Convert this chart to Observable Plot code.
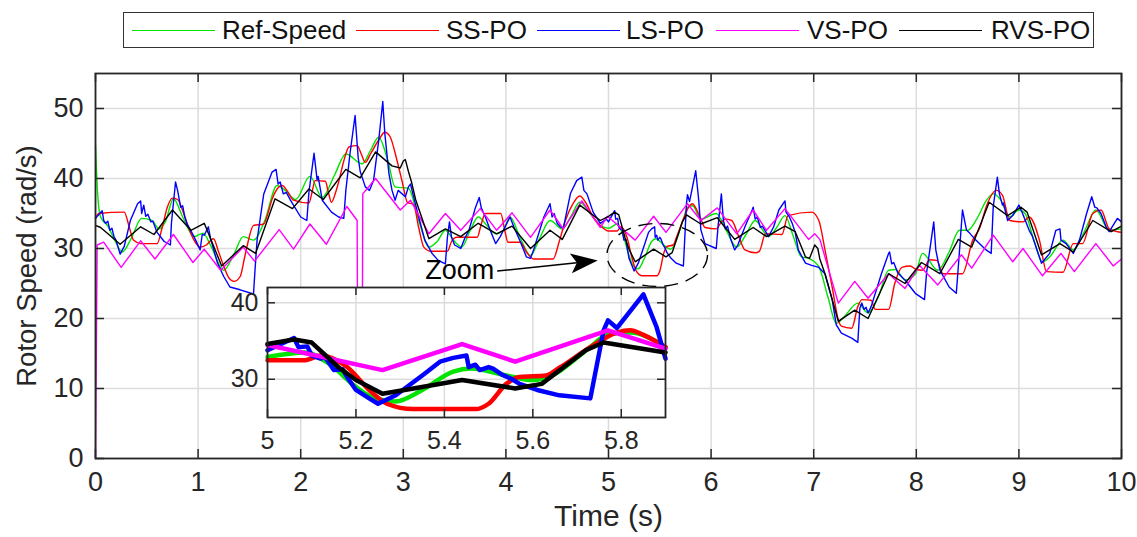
<!DOCTYPE html>
<html><head><meta charset="utf-8">
<script src="https://cdn.jsdelivr.net/npm/d3@7"></script>
<script src="https://cdn.jsdelivr.net/npm/@observablehq/plot@0.6"></script>
<style>
body{margin:0;background:#fff;width:1137px;height:537px;overflow:hidden;position:relative;}
.f{font-family:"Liberation Sans",Arial,Helvetica,sans-serif;}
#legend{position:absolute;left:123px;top:12px;width:971px;height:36px;border:1px solid #333;box-sizing:border-box;background:#fff;}
.lg-line{position:absolute;height:0;border-top:1.5px solid;}
.lg-text{position:absolute;font-size:26px;line-height:34px;color:#111;white-space:nowrap;}
#main{position:absolute;left:0;top:55px;}
#inset{position:absolute;left:225px;top:280px;}
</style></head>
<body class="f">
<div id="legend"></div>
<div id="main"></div>
<div id="inset"></div>
<script>
// ---------- data ----------
const seriesNames = ["Ref-Speed", "SS-PO", "LS-PO", "VS-PO", "RVS-PO"];
const seriesColors = ["#00e400", "#ff0000", "#0000ff", "#ff00ff", "#000000"];

const refT = [0,0.02,0.05,0.12,0.2,0.26,0.35,0.45,0.55,0.62,0.68,0.76,0.85,0.96,1.05,1.12,1.25,1.35,1.44,1.54,1.65,1.77,1.85,1.95,2.09,2.21,2.33,2.44,2.6,2.68,2.76,2.85,2.92,3.05,3.15,3.25,3.33,3.41,3.5,3.57,3.65,3.73,3.82,3.9,3.97,4.04,4.14,4.24,4.33,4.43,4.55,4.63,4.72,4.82,4.92,5.0,5.085,5.14,5.2,5.235,5.29,5.35,5.42,5.46,5.54,5.6,5.63,5.73,5.77,5.82,5.9,6.05,6.15,6.25,6.34,6.43,6.56,6.64,6.72,6.8,6.88,6.95,7.05,7.14,7.22,7.3,7.43,7.53,7.63,7.73,7.8,7.89,7.99,8.06,8.21,8.32,8.42,8.5,8.6,8.68,8.75,8.82,8.91,9.0,9.06,9.15,9.23,9.3,9.43,9.53,9.64,9.75,9.88,10.0];
const refV = [44.7,38,34.5,33.2,30.8,29.5,31.5,34.3,34,32.8,33.8,37.1,34.5,31.7,32.2,30.5,26.9,29.2,31.7,31.2,34,39,38.3,37,40.3,37.3,40.5,43.5,42.1,44,45.9,42.5,38.8,38.6,34,30.2,31,32.6,31,30.2,32.5,34.5,33.2,32.1,32.5,34.5,31.5,29,31.5,34,32.8,34.5,36.6,35,33.3,32.9,33.5,32,29,27.7,27.1,28.6,31,31.4,30.5,29.9,30.2,34.2,35.9,36.1,34.2,35,32.5,30.2,32,34,31.7,33,34.7,31.8,28.8,28.6,27.4,23,19.3,20.3,22.2,20.8,23.1,26.9,27,25.5,26.3,29.3,26.9,29.5,32.6,32.6,34.5,36.8,37.8,37,34.5,35.5,35,31,28.1,28.8,31.2,29.8,32.5,35.5,32.6,32.8];

const ssT = [0,0.03,0.28,0.33,0.37,0.44,0.6,0.65,0.7,0.75,0.8,0.86,0.92,0.96,1.02,1.08,1.15,1.2,1.25,1.3,1.35,1.41,1.45,1.48,1.54,1.64,1.68,1.72,1.77,1.82,1.87,1.93,2.08,2.11,2.14,2.24,2.27,2.3,2.34,2.37,2.42,2.47,2.55,2.59,2.63,2.68,2.76,2.82,2.87,2.94,2.99,3.04,3.1,3.15,3.2,3.27,3.43,3.47,3.52,3.72,3.76,3.8,3.95,3.99,4.02,4.14,4.2,4.27,4.46,4.52,4.58,4.65,4.72,4.78,4.85,4.92,5.0,5.085,5.12,5.18,5.23,5.27,5.33,5.47,5.5,5.54,5.57,5.63,5.66,5.73,5.79,5.82,5.85,5.9,5.94,6.05,6.1,6.14,6.2,6.27,6.33,6.43,6.47,6.53,6.69,6.75,6.98,7.05,7.11,7.18,7.24,7.27,7.37,7.43,7.47,7.56,7.6,7.73,7.79,7.86,7.94,8.0,8.06,8.13,8.2,8.26,8.45,8.55,8.62,8.68,8.78,8.84,8.91,9.04,9.1,9.2,9.27,9.43,9.53,9.62,9.72,9.8,9.88,9.96,10.0];
const ssV = [34.3,35,35.2,33,31.2,30.7,30.7,33,35.9,37.2,37,35,32.5,31.2,30.2,30.5,31.4,29.5,27.5,25.8,25.3,26,28.5,30.5,33.3,33.5,35,37,38.5,39,38.2,36.9,36.5,38,39.7,39.6,38,36.6,38,39.5,42.5,44.5,44.7,43.5,42.3,43.5,45.5,46.6,46,42.5,39.5,36.6,36.3,33,30.2,29.6,29.6,31,31.6,31.6,33.5,35,35,32.5,30.9,30.9,29.5,28.5,28.5,31,34,36.3,37.5,36.5,34.5,33.3,32.5,32.5,33.1,31.6,28.6,26.8,26.1,26.1,26.8,29.4,30.3,30.5,31.5,34.2,36.1,36.4,35.8,34.2,33,32.8,33.8,34.2,34,31.7,29.8,29.4,29.6,32.1,32,34.7,35.2,34,29.8,24.5,19.8,18.9,18.6,21.7,22.7,22.6,21.3,21.3,25,27.3,27.5,27,26.9,28.4,28.3,26.4,26.4,31.2,33,35.9,38.3,37.6,34,33.8,34.5,31.2,26.7,26.6,30.7,30.7,35,35.5,32.8,32.4,32.3];

const lsT = [0,0.065,0.08,0.1,0.12,0.14,0.16,0.18,0.2,0.24,0.28,0.34,0.41,0.44,0.45,0.47,0.49,0.51,0.54,0.56,0.6,0.67,0.73,0.74,0.78,0.8,0.83,0.85,0.87,0.89,0.96,1.02,1.04,1.06,1.08,1.1,1.12,1.19,1.25,1.31,1.41,1.54,1.555,1.575,1.64,1.72,1.76,1.78,1.8,1.83,1.86,1.9,2.0,2.06,2.08,2.13,2.16,2.17,2.21,2.3,2.37,2.42,2.44,2.48,2.53,2.56,2.58,2.63,2.67,2.71,2.76,2.8,2.82,2.86,2.89,2.92,2.95,3.02,3.05,3.07,3.1,3.15,3.21,3.28,3.34,3.41,3.43,3.45,3.47,3.5,3.56,3.6,3.64,3.7,3.74,3.76,3.8,3.85,3.9,3.945,4.04,4.08,4.14,4.2,4.24,4.27,4.37,4.43,4.45,4.47,4.5,4.53,4.56,4.63,4.69,4.74,4.76,4.79,4.85,4.92,4.98,5.0,5.06,5.07,5.09,5.1,5.12,5.13,5.15,5.17,5.18,5.2,5.23,5.25,5.29,5.35,5.39,5.42,5.45,5.455,5.47,5.48,5.5,5.51,5.53,5.55,5.57,5.61,5.66,5.73,5.76,5.77,5.79,5.85,5.88,5.9,5.94,6.05,6.07,6.1,6.12,6.14,6.16,6.19,6.23,6.26,6.33,6.4,6.41,6.43,6.45,6.48,6.5,6.56,6.61,6.66,6.72,6.73,6.76,6.79,6.82,6.85,6.92,6.98,7.05,7.11,7.18,7.22,7.27,7.37,7.43,7.45,7.47,7.49,7.51,7.53,7.56,7.66,7.73,7.74,7.76,7.78,7.82,7.89,7.99,8.08,8.1,8.17,8.19,8.23,8.32,8.39,8.41,8.45,8.49,8.52,8.58,8.68,8.73,8.75,8.79,8.81,8.84,8.85,8.89,8.94,9.0,9.03,9.1,9.13,9.16,9.22,9.3,9.36,9.4,9.41,9.46,9.53,9.59,9.66,9.71,9.74,9.76,9.8,9.85,9.88,9.93,9.96,10.0];
const lsV = [34.3,35.4,34,33.6,33.9,32.6,32.9,31.7,31.2,29.2,30.3,34,36.4,36.8,35,36.2,34.6,34.9,33.8,33.9,32.3,31,30.5,33.6,39.5,38.3,35.9,36.1,34.5,33.6,31.7,29.8,32,31.9,32.5,33.1,31.5,27.9,26,24.5,24.1,23.5,27,31.2,37.8,40.9,41.3,39.2,39.5,37.8,38,36.9,34.5,34,38,43.6,39.8,40.3,36.9,35.2,34.5,34.3,38.3,43.5,49,43,41,38.8,38.3,39.7,45.4,51,46.4,40.7,38.3,36.9,38.3,37.4,38.8,39.2,37.4,34.5,31.2,29.3,28.3,27.8,31.6,33.8,31.6,30.5,30,31.5,32.6,35.7,37.3,35.8,34.5,32.5,30.7,31.7,34.5,33,31,28.8,28.6,29.8,34.5,36.4,34.5,35,33.6,33.1,32.9,37.9,39.7,40.2,38.3,37.8,35.2,33.6,34.2,33.8,35.4,34.2,34.3,33.1,32.7,32.9,31.2,31.3,30.3,28.6,27.5,26.8,27.9,30.5,32.3,32.8,33.1,31.6,31.9,31.2,31.6,31.4,30.6,30.1,29.4,28.6,27.9,27.5,36.4,37.7,36.7,41.1,36.8,32.7,30.7,30,33.5,37.8,34,32.8,33.2,31.4,29.8,30.5,33.1,35.5,35.9,34.2,34.5,33,33.2,31.7,33.1,35.5,36.8,35.2,34.6,33.6,32.3,29.8,27.9,27.6,27.3,26.4,22.7,19.1,17.9,17.2,16.6,21.5,22.2,21.3,21.6,20.8,21.7,26.4,29.3,29.5,27.8,28,26.5,25.5,23.6,22.7,26.5,33.8,29.8,26.9,24.5,23.6,27.5,35.5,32.6,32.2,31.2,29.8,29.3,36,40.2,37.8,36.2,36.5,34,34.7,36.2,35.2,32.6,31.8,30.5,27.9,29.3,32.6,32.8,31.2,30.7,29.3,31.2,35,37.4,35.9,35.8,35,33.1,32.4,33.6,34.3,33.8];

const vsT = [0,0.016,0.08,0.25,0.44,0.58,0.76,0.95,1.06,1.22,1.44,1.55,1.79,1.93,2.09,2.25,2.45,2.55,2.555,2.6,2.605,2.73,2.97,3.07,3.25,3.41,3.56,3.75,3.91,4.06,4.24,4.43,4.56,4.74,4.92,4.99,5.26,5.44,5.56,5.77,5.9,6.06,6.25,6.41,6.54,6.72,6.95,7.01,7.06,7.24,7.4,7.53,7.73,7.89,8.03,8.21,8.44,8.54,8.75,8.94,9.04,9.23,9.41,9.54,9.75,9.92,10.0];
const vsV = [0,30.5,30.9,27.3,31.1,28.5,32,28,29.9,26.9,30.2,28.2,32.7,29.9,33.5,30.6,36,34,15,15,37.8,40,35.5,36.9,32.1,35,32.6,35.7,32.6,35.1,31.6,35.5,32.8,36.8,33,34.6,31.2,34.6,32.3,36.4,34,35.8,32.1,35.5,32.6,35.7,31.3,32.1,31.3,22.2,25.3,22.9,26.4,24.3,27.6,24.8,29.1,27.2,31.9,28.1,30,26.1,29.3,26.7,30.7,27.5,28.5];

const rvsT = [0,0.05,0.24,0.44,0.57,0.75,0.93,1.06,1.23,1.44,1.56,1.75,1.92,2.08,2.22,2.44,2.58,2.73,2.89,2.97,3.0,3.02,3.05,3.08,3.12,3.25,3.41,3.56,3.73,3.91,4.06,4.24,4.43,4.55,4.72,4.92,5.0,5.06,5.1,5.16,5.2,5.26,5.33,5.44,5.56,5.62,5.72,5.76,5.9,6.06,6.23,6.41,6.54,6.72,6.82,6.92,6.96,7.01,7.04,7.06,7.11,7.24,7.4,7.53,7.73,7.89,8.05,8.23,8.41,8.54,8.71,8.89,9.02,9.08,9.22,9.4,9.53,9.72,9.9,10.0];
const rvsV = [33.3,33,30.6,33.1,32,35.5,32.6,33.6,27.5,30.4,29.3,37.1,35.7,38.5,37,41.3,40.1,43.8,41.8,41.5,42.5,42.7,41,39.5,37,31.4,32.8,31.7,33.6,32.1,33.2,30,32.6,31.3,36.2,34,34.6,35.2,34.8,31.6,29.9,28.1,28.8,29.9,28.8,29.4,33.8,34.8,33.5,34.4,31.3,33,31.7,33.2,32.4,28.8,28.6,30.5,30,28.5,26.4,19.6,21.2,20,26.4,25,28,26.4,31.3,30.2,36.6,34.7,35.9,35.2,29.1,30.7,29.5,34,32.4,33.2];

const xTicks = [0,1,2,3,4,5,6,7,8,9,10];
const yTicks = [0,10,20,30,40,50];
const insetXTicks = [5,5.2,5.4,5.6,5.8];
const insetYTicks = [30,40];
const insetXDomain = [5, 5.9];
const zoomLabel = "Zoom";

// ---------- build rows ----------
const seriesT = [refT, ssT, lsT, vsT, rvsT];
const seriesV = [refV, ssV, lsV, vsV, rvsV];
const seriesCurve = ["monotone-x", "monotone-x", "linear", "linear", "linear"];
const seriesRows = seriesNames.map((name, i) => seriesT[i].map((t, j) => ({t, v: seriesV[i][j], s: name})));

// clip a series to [a, b] (linear crossing at the window edges)
function clipRows(rs, a, b) {
  const out = [];
  for (let j = 0; j < rs.length; j++) {
    const {t, v, s} = rs[j];
    if (j > 0) {
      const p = rs[j - 1];
      for (const c of [a, b]) {
        if ((p.t < c && t > c)) out.push({t: c, v: p.v + (v - p.v) * (c - p.t) / (t - p.t), s});
      }
    }
    if (t >= a && t <= b) out.push({t, v, s});
  }
  return out;
}

// ---------- legend ----------
const legendLineX = [8, 232, 413, 592, 775];
const legendTextX = [98, 322, 502, 683, 867];
const lg = document.getElementById("legend");
seriesNames.forEach((name, i) => {
  const l = document.createElement("div");
  l.className = "lg-line";
  l.style.left = legendLineX[i] + "px"; l.style.width = "83px"; l.style.top = "17px";
  l.style.borderTopColor = seriesColors[i];
  lg.appendChild(l);
  const t = document.createElement("div");
  t.className = "lg-text f";
  t.style.left = legendTextX[i] + "px"; t.style.top = "0px";
  t.textContent = name;
  lg.appendChild(t);
});

// ---------- main chart ----------
const W = 1137, H = 482, mt = 18, mb = 79, ml = 95, mr = 16;
const frameH = H - mt - mb, frameW = W - ml - mr;
const axisColor = "#262626", gridColor = "#dcdcdc";
const fontFam = '"Liberation Sans",Arial,Helvetica,sans-serif';

const main = Plot.plot({
  width: W, height: H, marginTop: mt, marginBottom: mb, marginLeft: ml, marginRight: mr,
  style: {fontFamily: fontFam, fontSize: "27px", color: axisColor, background: "white", overflow: "visible"},
  x: {domain: [0, 10], ticks: xTicks, tickSize: 0, tickPadding: 13, tickFormat: d => String(d), label: null},
  y: {domain: [0, 55], ticks: yTicks, tickSize: 0, tickPadding: 12, tickFormat: d => String(d), label: null},
  color: {domain: seriesNames, range: seriesColors},
  marks: [
    Plot.ruleX(xTicks, {stroke: gridColor, strokeWidth: 1.5}),
    Plot.ruleY(yTicks, {stroke: gridColor, strokeWidth: 1.5}),
    ...seriesRows.map((rs, i) => Plot.line(rs, {x: "t", y: "v", stroke: "s", strokeWidth: 1.4, curve: seriesCurve[i]})),
    Plot.ruleX(xTicks, {insetTop: frameH - 9, stroke: axisColor, strokeWidth: 1.5}),
    Plot.ruleX(xTicks, {insetBottom: frameH - 9, stroke: axisColor, strokeWidth: 1.5}),
    Plot.ruleY(yTicks, {insetRight: frameW - 9, stroke: axisColor, strokeWidth: 1.5}),
    Plot.ruleY(yTicks, {insetLeft: frameW - 9, stroke: axisColor, strokeWidth: 1.5}),
    Plot.frame({stroke: axisColor, strokeWidth: 1.8}),
    Plot.text(["Time (s)"], {frameAnchor: "bottom", dy: 67, fontSize: 30, fill: axisColor}),
    Plot.text(["Rotor Speed (rad/s)"], {frameAnchor: "left", textAnchor: "middle", dx: -68, rotate: -90, fontSize: 27.5, fill: axisColor}),
    Plot.text([{t: 3.55, v: 26.9}], {x: "t", y: "v", text: () => zoomLabel, fontSize: 27, fill: "#000"})
  ]
});
document.getElementById("main").appendChild(main);

// annotation: arrow + dashed ellipse, positioned through the chart's scales
(function () {
  const sx = main.scale("x"), sy = main.scale("y");
  const X = sx.apply ? sx.apply : d3.scaleLinear(sx.domain, sx.range);
  const Y = sy.apply ? sy.apply : d3.scaleLinear(sy.domain, sy.range);
  const svg = d3.select(main);
  const g = svg.append("g");
  const x0 = X(3.92), y0 = Y(26.7), x1 = X(4.9), y1 = Y(28.2);
  const ang = Math.atan2(y1 - y0, x1 - x0);
  const hl = 27, hw = 10, back = 6;
  const ux = Math.cos(ang), uy = Math.sin(ang), px = -uy, py = ux;
  const bx = x1 - ux * hl, by = y1 - uy * hl;
  g.append("line").attr("x1", x0).attr("y1", y0).attr("x2", bx + ux * back).attr("y2", by + uy * back)
    .attr("stroke", "#000").attr("stroke-width", 1.5);
  g.append("path").attr("d",
    `M${x1},${y1}L${bx + px * hw},${by + py * hw}L${bx + ux * back},${by + uy * back}L${bx - px * hw},${by - py * hw}Z`)
    .attr("fill", "#000");
  const cx = X(5.48), cy = Y(29.0);
  g.append("ellipse").attr("cx", cx).attr("cy", cy)
    .attr("rx", X(5.97) - X(5.48)).attr("ry", Y(24.5) - Y(29.0))
    .attr("fill", "none").attr("stroke", "#000").attr("stroke-width", 1.4).attr("stroke-dasharray", "14 8");
})();

// ---------- inset ----------
const iW = 450, iH = 180, iml = 42, imr = 10, imt = 7, imb = 43;
const ifH = iH - imt - imb, ifW = iW - iml - imr;
const inset = Plot.plot({
  width: iW, height: iH, marginTop: imt, marginBottom: imb, marginLeft: iml, marginRight: imr,
  style: {fontFamily: fontFam, fontSize: "25px", color: axisColor, background: "transparent", overflow: "visible"},
  x: {domain: insetXDomain, ticks: insetXTicks, tickSize: 0, tickPadding: 14, tickFormat: d => String(+d.toFixed(1)), label: null},
  y: {domain: [25, 42], ticks: insetYTicks, tickSize: 0, tickPadding: 9, tickFormat: d => String(d), label: null},
  color: {domain: seriesNames, range: seriesColors},
  marks: [
    Plot.frame({fill: "white"}),
    Plot.ruleX(insetXTicks.slice(1), {stroke: gridColor, strokeWidth: 1.5}),
    Plot.ruleY(insetYTicks, {stroke: gridColor, strokeWidth: 1.5}),
    ...seriesRows.map((rs, i) => Plot.line(clipRows(rs, insetXDomain[0], insetXDomain[1]),
      {x: "t", y: "v", stroke: "s", strokeWidth: 4.5, strokeLinejoin: "round", curve: seriesCurve[i]})),
    Plot.ruleX(insetXTicks, {insetTop: ifH - 8, stroke: axisColor, strokeWidth: 1.5}),
    Plot.ruleX(insetXTicks, {insetBottom: ifH - 8, stroke: axisColor, strokeWidth: 1.5}),
    Plot.ruleY(insetYTicks, {insetRight: ifW - 8, stroke: axisColor, strokeWidth: 1.5}),
    Plot.ruleY(insetYTicks, {insetLeft: ifW - 8, stroke: axisColor, strokeWidth: 1.5}),
    Plot.frame({stroke: axisColor, strokeWidth: 1.8})
  ]
});
document.getElementById("inset").appendChild(inset);
</script>
</body></html>
